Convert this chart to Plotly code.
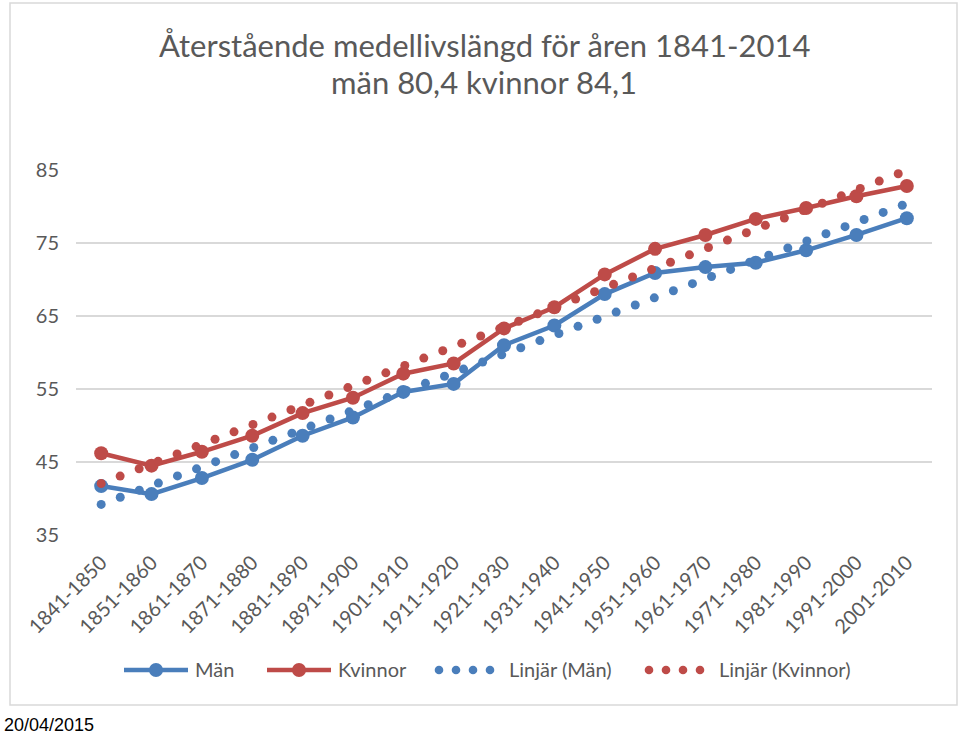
import numpy as np
import plotly.graph_objects as go

categories = ["1841-1850", "1851-1860", "1861-1870", "1871-1880", "1881-1890",
              "1891-1900", "1901-1910", "1911-1920", "1921-1930", "1931-1940",
              "1941-1950", "1951-1960", "1961-1970", "1971-1980", "1981-1990",
              "1991-2000", "2001-2010"]
man = [41.7, 40.6, 42.8, 45.3, 48.6, 51.1, 54.6, 55.7, 61.0, 63.7,
       68.0, 70.9, 71.7, 72.3, 74.0, 76.1, 78.4]
kvinnor = [46.2, 44.5, 46.4, 48.6, 51.7, 53.8, 57.1, 58.5, 63.3, 66.2,
           70.7, 74.2, 76.1, 78.3, 79.8, 81.4, 82.8]
y_ticks = [35, 45, 55, 65, 75, 85]

title_1 = "Återstående medellivslängd för åren 1841-2014"
title_2 = "män 80,4 kvinnor 84,1"
date_text = "20/04/2015"
names = ["Män", "Kvinnor", "Linjär (Män)", "Linjär (Kvinnor)"]

BLUE = "#4A7EBB"
RED = "#BE4B48"
GREY = "#595959"
GRID = "#D9D9D9"
FONT = "Lato"

W, H = 960, 735
PX_L, PX_R, PX_T, PX_B = 76, 932, 170, 535
x = np.arange(len(categories))
px_per_cat = (PX_R - PX_L) / len(categories)
px_per_unit = (PX_B - PX_T) / (y_ticks[-1] - y_ticks[0])


def trend_dots(values, spacing_px=20.36):
    slope, intercept = np.polyfit(x, values, 1)
    dx_px = spacing_px / np.sqrt(1 + (slope * px_per_unit / px_per_cat) ** 2)
    step = dx_px / px_per_cat
    xs = np.arange(0, x[-1] + 1e-9, step)
    return xs, slope * xs + intercept


fig = go.Figure()
fig.add_trace(go.Scatter(x=x, y=man, mode="lines+markers", name=names[0],
                         line=dict(color=BLUE, width=4.5),
                         marker=dict(color=BLUE, size=14), cliponaxis=False))
fig.add_trace(go.Scatter(x=x, y=kvinnor, mode="lines+markers", name=names[1],
                         line=dict(color=RED, width=4.5),
                         marker=dict(color=RED, size=14), cliponaxis=False))
tx, ty = trend_dots(man)
fig.add_trace(go.Scatter(x=tx, y=ty, mode="markers", name=names[2],
                         marker=dict(color=BLUE, size=9), cliponaxis=False))
tx, ty = trend_dots(kvinnor)
fig.add_trace(go.Scatter(x=tx, y=ty, mode="markers", name=names[3],
                         marker=dict(color=RED, size=9), cliponaxis=False))


def px(v):
    return v / W


def py(v):
    return 1 - v / H


shapes = [dict(type="rect", xref="paper", yref="paper",
               x0=px(10), x1=px(957), y0=py(3), y1=py(705),
               line=dict(color=GRID, width=1.5), layer="below")]
annotations = [
    dict(text=title_1, x=px(484), y=py(45), xref="paper", yref="paper",
         showarrow=False, xanchor="center", yanchor="middle",
         font=dict(family=FONT, size=31, color=GREY)),
    dict(text=title_2, x=px(484), y=py(82), xref="paper", yref="paper",
         showarrow=False, xanchor="center", yanchor="middle",
         font=dict(family=FONT, size=31, color=GREY)),
    dict(text=date_text, x=px(2), y=py(725), xref="paper", yref="paper",
         showarrow=False, xanchor="left", yanchor="middle",
         font=dict(family="Liberation Sans, Arial", size=18, color="black")),
]

# custom legend
LEG_Y = 670
legend_items = [
    dict(kind="line", color=BLUE, x0=124, x1=188, text_x=193),
    dict(kind="line", color=RED, x0=267, x1=331, text_x=336),
    dict(kind="dots", color=BLUE, x0=439, x1=490, text_x=507),
    dict(kind="dots", color=RED, x0=649, x1=700, text_x=717),
]
for name, item in zip(names, legend_items):
    if item["kind"] == "line":
        shapes.append(dict(type="line", xref="paper", yref="paper",
                           x0=px(item["x0"]), x1=px(item["x1"]),
                           y0=py(LEG_Y), y1=py(LEG_Y),
                           line=dict(color=item["color"], width=4.5)))
        cx = (item["x0"] + item["x1"]) / 2
        r = 7
        shapes.append(dict(type="circle", xref="paper", yref="paper",
                           x0=px(cx - r), x1=px(cx + r),
                           y0=py(LEG_Y + r), y1=py(LEG_Y - r),
                           fillcolor=item["color"], line=dict(width=0)))
    else:
        r = 4.3
        for cx in np.linspace(item["x0"], item["x1"], 4):
            shapes.append(dict(type="circle", xref="paper", yref="paper",
                               x0=px(cx - r), x1=px(cx + r),
                               y0=py(LEG_Y + r), y1=py(LEG_Y - r),
                               fillcolor=item["color"], line=dict(width=0)))
    annotations.append(dict(text=name, x=px(item["text_x"]), y=py(LEG_Y - 1),
                            xref="paper", yref="paper", showarrow=False,
                            xanchor="left", yanchor="middle",
                            font=dict(family=FONT, size=20, color=GREY)))

fig.update_layout(
    width=W, height=H,
    margin=dict(l=0, r=0, t=0, b=0, pad=0, autoexpand=False),
    paper_bgcolor="white", plot_bgcolor="white",
    showlegend=False,
    shapes=shapes, annotations=annotations,
    xaxis=dict(domain=[px(PX_L), px(PX_R)], range=[-0.5, len(categories) - 0.5],
               tickvals=list(x), ticktext=categories, tickangle=-45,
               showgrid=False, zeroline=False, showline=False, automargin=False,
               ticks="", ticklabelstandoff=11,
               tickfont=dict(family=FONT, size=20, color=GREY)),
    yaxis=dict(domain=[py(PX_B), py(PX_T)], range=[y_ticks[0], y_ticks[-1]],
               tickvals=y_ticks, showgrid=True, gridcolor=GRID, gridwidth=1.5,
               zeroline=False, showline=False, automargin=False,
               ticks="", ticklabelstandoff=16,
               tickfont=dict(family=FONT, size=20, color=GREY)),
)

fig.write_html("out.html", config={"displayModeBar": False},
               post_script="document.body.style.margin='0';document.body.style.overflow='hidden';")
